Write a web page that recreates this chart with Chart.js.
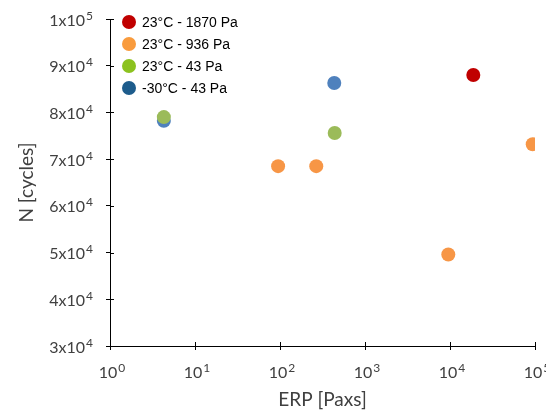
<!DOCTYPE html>
<html><head><meta charset="utf-8">
<script src="https://cdn.jsdelivr.net/npm/chart.js@4.4.1/dist/chart.umd.min.js"></script>
<style>html,body{margin:0;padding:0;background:#fff}canvas{display:block}</style>
</head><body>
<canvas id="c" width="546" height="412"></canvas>
<script>
// ---- data ----
const seriesLabels = ['23°C - 1870 Pa', '23°C - 936 Pa', '23°C - 43 Pa', '-30°C - 43 Pa'];
const erp1870 = [18800];
const n1870 = [88000];
const erp936 = [95, 267, 9550, 94000];
const n936 = [68500, 68500, 49600, 73200];
const erp43 = [4.3, 440];
const n43 = [79000, 75600];
const erpCold = [4.3, 435];
const nCold = [78200, 86300];
const xTickValues = [1, 10, 100, 1000, 10000, 100000];
const xTickBase = ['10', '10', '10', '10', '10', '10'];
const xTickExp = ['0', '1', '2', '3', '4', '5'];
const yTickValues = [30000, 40000, 50000, 60000, 70000, 80000, 90000, 100000];
const yTickBase = ['3x10', '4x10', '5x10', '6x10', '7x10', '8x10', '9x10', '1x10'];
const yTickExp = ['4', '4', '4', '4', '4', '4', '4', '5'];
const xTitle = 'ERP [Paxs]';
const yTitle = 'N [cycles]';

// ---- styles ----
const pointColors = ['#C00000', '#F79646', '#9BBB59', '#4F81BD'];
const legendColors = ['#C00000', '#F99B3D', '#8CC21F', '#1D5C8C'];
const FAM = 'Lato, "DejaVu Sans", sans-serif';
const baseFont = '16px ' + FAM;
const supFont = '12px ' + FAM;
const titleFont = {family: FAM, size: 19};
const textColor = '#404040';

function toPts(xs, ys) { return xs.map((x, i) => ({x: x, y: ys[i]})); }
const seriesData = [toPts(erp1870, n1870), toPts(erp936, n936), toPts(erp43, n43), toPts(erpCold, nCold)];

function drawSupLabel(ctx, base, exp, x, baseline, supBaseline, align) {
  ctx.font = baseFont; const bw = ctx.measureText(base).width;
  ctx.font = supFont; const sw = ctx.measureText(exp).width;
  const gap = 1;
  const total = bw + gap + sw;
  const x0 = align === 'right' ? x - total : x - total / 2;
  ctx.font = baseFont; ctx.fillText(base, x0, baseline);
  ctx.font = supFont; ctx.fillText(exp, x0 + bw + gap, supBaseline);
}

const tickLabels = {
  id: 'tickLabels',
  afterDraw(chart) {
    const ctx = chart.ctx, xs = chart.scales.x, ys = chart.scales.y;
    ctx.save();
    ctx.fillStyle = textColor;
    ctx.textAlign = 'left';
    ctx.textBaseline = 'alphabetic';
    xs.ticks.forEach((t, i) => {
      const px = xs.getPixelForValue(t.value);
      drawSupLabel(ctx, xTickBase[i], xTickExp[i], px + 2, ys.bottom + 32, ys.bottom + 26, 'center');
    });
    ys.ticks.forEach((t, i) => {
      const py = ys.getPixelForValue(t.value);
      drawSupLabel(ctx, yTickBase[i], yTickExp[i], xs.left - 17, py + 6.5, py + 0.5, 'right');
    });
    ctx.restore();
  }
};

const legendPlugin = {
  id: 'insideLegend',
  afterDraw(chart) {
    const ctx = chart.ctx;
    const a = chart.chartArea;
    ctx.save();
    ctx.font = '14px "Liberation Sans", Arial, sans-serif';
    ctx.textBaseline = 'middle';
    ctx.textAlign = 'left';
    seriesLabels.forEach((lab, i) => {
      const cy = a.top + 3 + i * 22;
      const cx = a.left + 19;
      ctx.beginPath();
      ctx.arc(cx, cy, 7, 0, Math.PI * 2);
      ctx.fillStyle = legendColors[i];
      ctx.fill();
      ctx.fillStyle = '#000';
      ctx.fillText(lab, cx + 13, cy + 1);
    });
    ctx.restore();
  }
};

const innerTicks = {
  id: 'innerTicks',
  afterDraw(chart) {
    const ctx = chart.ctx, xs = chart.scales.x, ys = chart.scales.y;
    ctx.save();
    ctx.strokeStyle = '#000';
    ctx.lineWidth = 1;
    ctx.beginPath();
    xs.ticks.forEach(t => {
      const px = Math.round(xs.getPixelForValue(t.value)) + 0.5;
      ctx.moveTo(px, ys.bottom); ctx.lineTo(px, ys.bottom - 4);
    });
    ys.ticks.forEach(t => {
      const py = Math.round(ys.getPixelForValue(t.value)) + 0.5;
      ctx.moveTo(xs.left, py); ctx.lineTo(xs.left + 4, py);
    });
    ctx.stroke();
    ctx.restore();
  }
};

new Chart(document.getElementById('c'), {
  type: 'scatter',
  data: {
    datasets: seriesLabels.map((lab, i) => ({
      label: lab,
      data: seriesData[i],
      backgroundColor: pointColors[i],
      borderColor: pointColors[i],
      borderWidth: 0,
      pointRadius: 7,
      pointHoverRadius: 7
    }))
  },
  options: {
    responsive: false,
    animation: false,
    devicePixelRatio: 1,
    layout: {padding: {left: 0, top: 19, right: 11, bottom: 0}},
    plugins: {legend: {display: false}, tooltip: {enabled: false}},
    scales: {
      x: {
        type: 'logarithmic',
        min: 1, max: 100000,
        afterBuildTicks: s => { s.ticks = xTickValues.map(v => ({value: v})); },
        afterFit: s => { s.height = 66; s.paddingLeft = 0; s.paddingRight = 0; },
        ticks: {display: false, autoSkip: false},
        grid: {display: true, drawOnChartArea: false, drawTicks: true, tickLength: 4, color: '#000'},
        border: {display: true, color: '#000', width: 1},
        title: {display: true, text: xTitle, font: titleFont, color: textColor, padding: {top: 0, bottom: 1}}
      },
      y: {
        type: 'linear',
        min: 30000, max: 100000,
        afterBuildTicks: s => { s.ticks = yTickValues.map(v => ({value: v})); },
        afterFit: s => { s.width = 110; s.paddingTop = 0; s.paddingBottom = 0; },
        ticks: {display: false},
        grid: {display: true, drawOnChartArea: false, drawTicks: true, tickLength: 4, color: '#000'},
        border: {display: true, color: '#000', width: 1},
        title: {display: true, text: yTitle, font: titleFont, color: textColor, padding: {top: 15, bottom: 0}}
      }
    }
  },
  plugins: [tickLabels, legendPlugin, innerTicks]
});
</script>
</body></html>
